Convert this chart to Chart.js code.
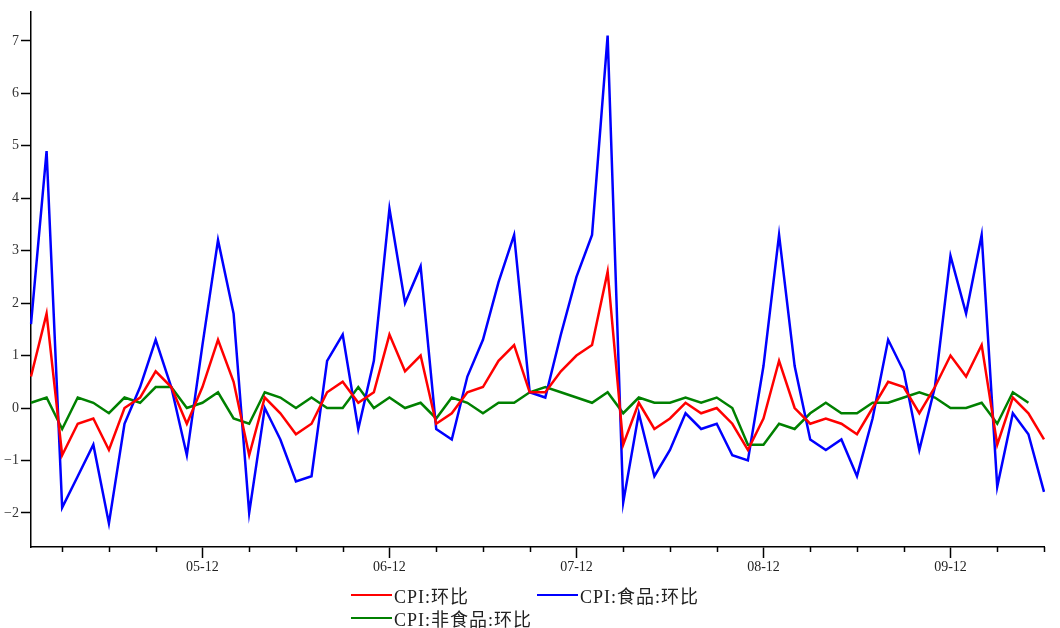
<!DOCTYPE html>
<html>
<head>
<meta charset="utf-8">
<script src="https://cdn.jsdelivr.net/npm/chart.js@4/dist/chart.umd.min.js"></script>
<style>
  body { margin: 0; background: #fff; }
  #wrap { position: relative; width: 1060px; height: 628px; }
  .legend-row { position: absolute; display: flex; align-items: center; height: 22px;
    font: 18px "Liberation Serif", "Noto Sans CJK SC", serif; color: #222; white-space: nowrap;
    letter-spacing: 1px; }
  .legend-row .swatch { display: inline-block; width: 41px; height: 2px; margin-right: 2px; }
</style>
</head>
<body>
<div id="wrap">
  <canvas id="chart" width="1060" height="628"></canvas>
</div>
<script>
// monthly labels, 2005-01 .. 2010-06
const months = [
  '2005-01','2005-02','2005-03','2005-04','2005-05','2005-06','2005-07','2005-08','2005-09','2005-10','2005-11','2005-12',
  '2006-01','2006-02','2006-03','2006-04','2006-05','2006-06','2006-07','2006-08','2006-09','2006-10','2006-11','2006-12',
  '2007-01','2007-02','2007-03','2007-04','2007-05','2007-06','2007-07','2007-08','2007-09','2007-10','2007-11','2007-12',
  '2008-01','2008-02','2008-03','2008-04','2008-05','2008-06','2008-07','2008-08','2008-09','2008-10','2008-11','2008-12',
  '2009-01','2009-02','2009-03','2009-04','2009-05','2009-06','2009-07','2009-08','2009-09','2009-10','2009-11','2009-12',
  '2010-01','2010-02','2010-03','2010-04','2010-05','2010-06'
];

const seriesNames = ['CPI:环比', 'CPI:食品:环比', 'CPI:非食品:环比'];
const seriesColors = ['#ff0000', '#0000ff', '#008000'];

// CPI month-on-month (%)
const cpiMoM = [
  0.6, 1.8, -0.9, -0.3, -0.2, -0.8, 0.0, 0.2, 0.7, 0.4, -0.3, 0.4,
  1.3, 0.5, -0.9, 0.2, -0.1, -0.5, -0.3, 0.3, 0.5, 0.1, 0.3, 1.4,
  0.7, 1.0, -0.3, -0.1, 0.3, 0.4, 0.9, 1.2, 0.3, 0.3, 0.7, 1.0,
  1.2, 2.6, -0.7, 0.1, -0.4, -0.2, 0.1, -0.1, 0.0, -0.3, -0.8, -0.2,
  0.9, 0.0, -0.3, -0.2, -0.3, -0.5, 0.0, 0.5, 0.4, -0.1, 0.4, 1.0,
  0.6, 1.2, -0.7, 0.2, -0.1, -0.6
];
// food
const foodMoM = [
  1.6, 4.9, -1.9, -1.3, -0.7, -2.2, -0.3, 0.4, 1.3, 0.4, -0.9, 1.2,
  3.2, 1.8, -2.0, 0.0, -0.6, -1.4, -1.3, 0.9, 1.4, -0.4, 0.9, 3.8,
  2.0, 2.7, -0.4, -0.6, 0.6, 1.3, 2.4, 3.3, 0.3, 0.2, 1.4, 2.5,
  3.3, 7.1, -1.8, -0.1, -1.3, -0.8, -0.1, -0.4, -0.3, -0.9, -1.0, 0.8,
  3.3, 0.8, -0.6, -0.8, -0.6, -1.3, -0.2, 1.3, 0.7, -0.8, 0.4, 2.9,
  1.8, 3.3, -1.5, -0.1, -0.5, -1.6
];
// non-food (no value for the last month)
const nonFoodMoM = [
  0.1, 0.2, -0.4, 0.2, 0.1, -0.1, 0.2, 0.1, 0.4, 0.4, 0.0, 0.1,
  0.3, -0.2, -0.3, 0.3, 0.2, 0.0, 0.2, 0.0, 0.0, 0.4, 0.0, 0.2,
  0.0, 0.1, -0.2, 0.2, 0.1, -0.1, 0.1, 0.1, 0.3, 0.4, 0.3, 0.2,
  0.1, 0.3, -0.1, 0.2, 0.1, 0.1, 0.2, 0.1, 0.2, 0.0, -0.7, -0.7,
  -0.3, -0.4, -0.1, 0.1, -0.1, -0.1, 0.1, 0.1, 0.2, 0.3, 0.2, 0.0,
  0.0, 0.1, -0.3, 0.3, 0.1, null
];

const yMin = -2.65;
const yMax = 7.55;

const monthOf = idx => months[idx].slice(5);
const tickFont = { family: '"Liberation Serif", serif', size: 14 };

// short ticks for Mar / Jun / Sep, the long Dec ticks come from the grid
const minorTicks = {
  id: 'minorTicks',
  afterDraw(chart) {
    const xs = chart.scales.x;
    const ctx = chart.ctx;
    ctx.save();
    ctx.strokeStyle = '#000';
    ctx.lineWidth = 1.5;
    months.forEach((m, i) => {
      const mm = monthOf(i);
      if (mm === '03' || mm === '06' || mm === '09') {
        const px = Math.round(xs.getPixelForValue(i)) + 0.5;
        ctx.beginPath();
        ctx.moveTo(px, xs.top);
        ctx.lineTo(px, xs.top + 5);
        ctx.stroke();
      }
    });
    ctx.restore();
  }
};

const datasets = [cpiMoM, foodMoM, nonFoodMoM].map((vals, k) => ({
  label: seriesNames[k],
  data: vals,
  borderColor: seriesColors[k],
  backgroundColor: seriesColors[k],
  borderWidth: 2.5,
  pointRadius: 0,
  tension: 0,
  fill: false
}));

new Chart(document.getElementById('chart').getContext('2d'), {
  type: 'line',
  data: { labels: months, datasets: datasets },
  plugins: [minorTicks],
  options: {
    responsive: false,
    animation: false,
    layout: { padding: { top: 12, right: 16, bottom: 51, left: 0 } },
    plugins: { legend: { display: false }, tooltip: { enabled: false } },
    scales: {
      x: {
        type: 'category',
        offset: false,
        afterFit: s => { s.height = 30; },
        border: { display: true, color: '#000', width: 1.5 },
        grid: {
          display: true,
          drawOnChartArea: false,
          tickLength: 11,
          tickWidth: 1.5,
          tickColor: c => (monthOf(c.index) === '12' ? '#000' : 'rgba(0,0,0,0)')
        },
        ticks: {
          autoSkip: false,
          maxRotation: 0,
          padding: 1,
          color: '#222',
          font: tickFont,
          callback: (v, i) => (monthOf(i) === '12' ? months[i].slice(2) : '')
        }
      },
      y: {
        min: yMin,
        max: yMax,
        afterFit: s => { s.width = 31; },
        border: { display: true, color: '#000', width: 1.5 },
        grid: { drawOnChartArea: false, tickLength: 10, tickColor: '#000', tickWidth: 1.5 },
        ticks: {
          stepSize: 1,
          includeBounds: false,
          padding: 2,
          color: '#333',
          font: tickFont,
          callback: v => String(v).replace('-', '\u2212')
        }
      }
    }
  }
});

// legend below the axis, laid out like the original (two entries, then one)
const legendSpots = [
  { left: 351, top: 584 },
  { left: 537, top: 584 },
  { left: 351, top: 607 }
];
const wrap = document.getElementById('wrap');
seriesNames.forEach((name, k) => {
  const row = document.createElement('div');
  row.className = 'legend-row';
  row.style.left = legendSpots[k].left + 'px';
  row.style.top = legendSpots[k].top + 'px';
  const sw = document.createElement('span');
  sw.className = 'swatch';
  sw.style.background = seriesColors[k];
  row.appendChild(sw);
  row.appendChild(document.createTextNode(name));
  wrap.appendChild(row);
});
</script>
</body>
</html>
